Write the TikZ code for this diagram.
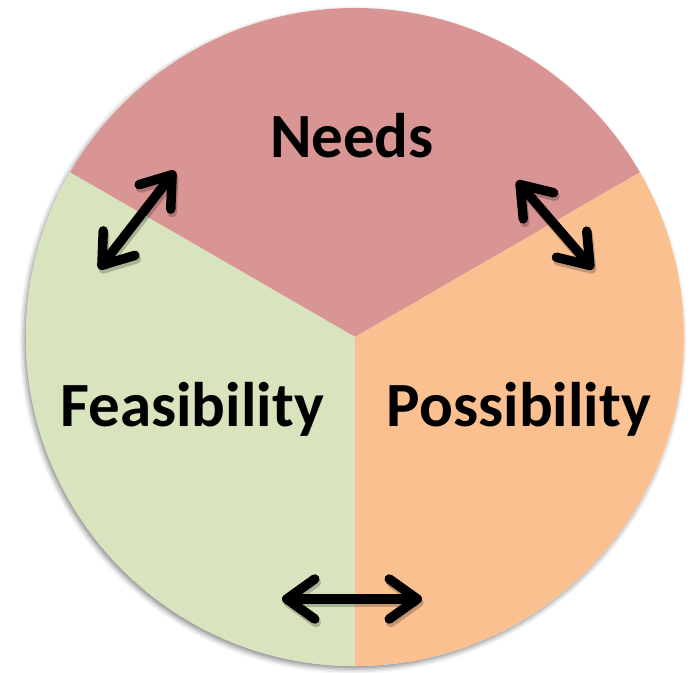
\documentclass[tikz,border=0pt]{standalone}
\usepackage{fontspec}
\setmainfont{Carlito}
\usetikzlibrary{arrows.meta,shadows.blur}

\definecolor{needsred}{HTML}{D99594}
\definecolor{feasgreen}{HTML}{D7E4BD}
\definecolor{possorange}{HTML}{FAC090}

\tikzset{
  label text/.style={font=\fontsize{63}{68}\selectfont\bfseries, anchor=base, inner sep=0pt},
  barb/.tip={Straight Barb[round, length=28pt, width=40pt]},
  link/.style={line width=9.5pt, line cap=round, {barb}-{barb}},
  link shadow/.style={link, draw=black, opacity=0.22,
    transform canvas={shift={(1.5pt,-3.5pt)}}},
}

\begin{document}
\begin{tikzpicture}[x=1pt, y=-1pt]
  \useasboundingbox (0,0) rectangle (695,672);

  \coordinate (C) at (355,337);

  % disc with a soft drop shadow
  \fill[white, blur shadow={shadow xshift=-2pt, shadow yshift=-3pt,
        shadow blur radius=5pt, shadow opacity=45}] (C) circle (329);

  % three equal sectors
  \begin{scope}
    \clip (C) circle (329);
    \fill[needsred]   (C) -- (-251,-13) -- (-251,-400) -- (961,-400) -- (961,-13) -- cycle;
    \fill[feasgreen]  (C) -- (-251,-13) -- (-251,1100) -- (355,1100) -- cycle;
    \fill[possorange] (C) -- (961,-13) -- (961,1100) -- (355,1100) -- cycle;
  \end{scope}

  % labels
  \node[label text] (needs) at (352,157) {Needs};
  \node[label text] (feas)  at (192,426) {Feasibility};
  \node[label text] (poss)  at (519,426) {Possibility};

  % ends of the two-way arrows
  \coordinate (a1) at (99,269);
  \coordinate (a2) at (175,171);
  \coordinate (b1) at (517,181);
  \coordinate (b2) at (593,269);
  \coordinate (c1) at (282,599);
  \coordinate (c2) at (422,599);

  % arrow shadows
  \draw[link shadow] (a1) -- (a2);
  \draw[link shadow] (b1) -- (b2);
  \draw[link shadow] (c1) -- (c2);

  % arrows
  \draw[link] (a1) -- (a2);
  \draw[link] (b1) -- (b2);
  \draw[link] (c1) -- (c2);
\end{tikzpicture}
\end{document}
